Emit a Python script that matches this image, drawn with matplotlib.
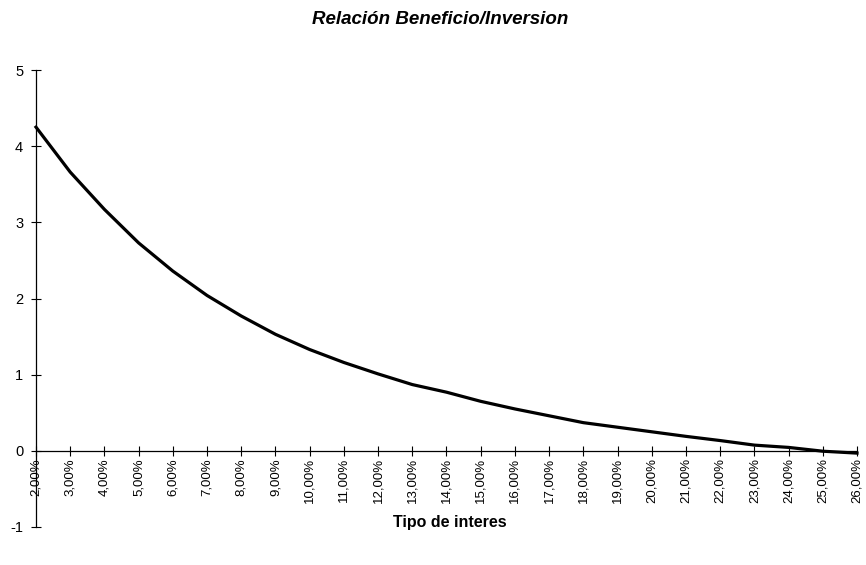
import numpy as np
import matplotlib
matplotlib.use("Agg")
import matplotlib.pyplot as plt

# Datos
tipos = [2, 3, 4, 5, 6, 7, 8, 9, 10, 11, 12, 13, 14, 15, 16, 17, 18, 19, 20, 21, 22, 23, 24, 25, 26]
relacion = [4.25, 3.66, 3.17, 2.73, 2.36, 2.04, 1.77, 1.53, 1.33, 1.16, 1.01, 0.87, 0.77, 0.65, 0.55, 0.46, 0.37, 0.31, 0.25, 0.19, 0.135, 0.075, 0.045, -0.005, -0.03]
etiquetas = ["%d,00%%" % t for t in tipos]

plt.rcParams['font.family'] = ['Liberation Sans', 'DejaVu Sans']

fig = plt.figure(figsize=(8.66, 5.65), dpi=100)
ax = fig.add_axes([36/866, 38/565, (857-36)/866, (527-70)/565])

# ejes primero (set_position reinicia los ticks)
ax.spines['top'].set_visible(False)
ax.spines['right'].set_visible(False)
ax.spines['bottom'].set_position(('data', 0))
for s in ['bottom', 'left']:
    ax.spines[s].set_linewidth(0.9)
    ax.spines[s].set_color('black')

x = np.arange(len(tipos))
ax.plot(x, relacion, color='black', lw=2.3, solid_joinstyle='round', clip_on=False)

ax.set_xlim(0, len(tipos) - 1)
ax.set_ylim(-1, 5)
ax.set_xticks(x)
ax.set_xticklabels(etiquetas, rotation=90, fontsize=9.5)
ax.set_yticks(range(-1, 6))
ax.set_yticklabels([str(v) for v in range(-1, 6)], fontsize=10.5)
ax.tick_params(axis='both', direction='inout', length=6.5, width=0.8)
ax.tick_params(axis='x', pad=2)
ax.tick_params(axis='y', pad=6)

fig.text(440/866, 1 - 19/565, "Relación Beneficio/Inversion", ha='center', va='center',
         fontsize=13.5, fontweight='bold', fontstyle='italic')
fig.text(450/866, 1 - 522/565, "Tipo de interes", ha='center', va='center',
         fontsize=11.5, fontweight='bold')

plt.savefig("out.png", dpi=100)
plt.close()
